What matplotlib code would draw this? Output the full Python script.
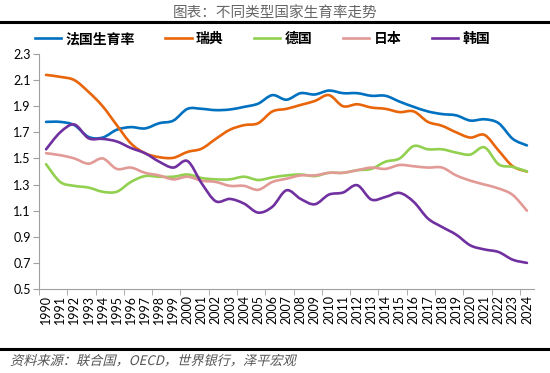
import matplotlib
matplotlib.use("Agg")
import matplotlib.pyplot as plt
import numpy as np
from matplotlib.path import Path
from matplotlib.patches import PathPatch
from matplotlib.lines import Line2D
from matplotlib.textpath import TextPath
from matplotlib.font_manager import FontProperties
from matplotlib.transforms import Affine2D

plt.rcParams['font.family'] = ['Lato', 'Noto Sans CJK SC', 'DejaVu Sans']

years = [str(y) for y in range(1990, 2025)]
france = [1.78, 1.78, 1.755, 1.665, 1.66, 1.72, 1.74, 1.73, 1.77, 1.79,
          1.88, 1.88, 1.87, 1.875, 1.895, 1.92, 1.985, 1.95, 2.00, 1.99,
          2.02, 2.00, 2.00, 1.98, 1.98, 1.935, 1.895, 1.86, 1.84, 1.83,
          1.79, 1.80, 1.77, 1.65, 1.60]
sweden = [2.14, 2.125, 2.10, 2.01, 1.90, 1.755, 1.615, 1.54, 1.51, 1.505,
          1.55, 1.575, 1.65, 1.72, 1.755, 1.77, 1.86, 1.88, 1.91, 1.94,
          1.985, 1.90, 1.915, 1.89, 1.88, 1.855, 1.86, 1.78, 1.75, 1.70,
          1.66, 1.68, 1.56, 1.44, 1.40]
germany = [1.456, 1.32, 1.29, 1.277, 1.245, 1.245, 1.32, 1.365, 1.36, 1.36,
           1.377, 1.35, 1.34, 1.34, 1.36, 1.335, 1.355, 1.37, 1.377, 1.365,
           1.39, 1.39, 1.41, 1.42, 1.475, 1.50, 1.595, 1.57, 1.57, 1.545,
           1.53, 1.585, 1.455, 1.435, 1.40]
japan = [1.54, 1.525, 1.50, 1.46, 1.50, 1.42, 1.43, 1.39, 1.37, 1.34,
         1.36, 1.33, 1.32, 1.29, 1.29, 1.26, 1.32, 1.345, 1.37, 1.37,
         1.39, 1.39, 1.41, 1.43, 1.42, 1.45, 1.44, 1.43, 1.43, 1.37,
         1.33, 1.30, 1.27, 1.22, 1.10]
korea = [1.57, 1.70, 1.76, 1.655, 1.65, 1.63, 1.58, 1.54, 1.475, 1.43,
         1.48, 1.31, 1.172, 1.19, 1.154, 1.085, 1.13, 1.256, 1.19, 1.149,
         1.223, 1.239, 1.295, 1.185, 1.205, 1.236, 1.167, 1.04, 0.975, 0.916,
         0.834, 0.803, 0.783, 0.724, 0.70]

series = [
    ("法国生育率", france, "#0070C0"),
    ("瑞典", sweden, "#E8650A"),
    ("德国", germany, "#92D050"),
    ("日本", japan, "#E29A96"),
    ("韩国", korea, "#7030A0"),
]


def smooth_path(x, y, t=1 / 6):
    # Catmull-Rom style bezier, similar to Excel smoothed lines
    x = np.asarray(x, float)
    y = np.asarray(y, float)
    verts = [(x[0], y[0])]
    codes = [Path.MOVETO]
    n = len(x)
    for i in range(n - 1):
        x0, y0 = (x[i - 1], y[i - 1]) if i > 0 else (x[i], y[i])
        x3, y3 = (x[i + 2], y[i + 2]) if i + 2 < n else (x[i + 1], y[i + 1])
        c1 = (x[i] + (x[i + 1] - x0) * t, y[i] + (y[i + 1] - y0) * t)
        c2 = (x[i + 1] - (x3 - x[i]) * t, y[i + 1] - (y3 - y[i]) * t)
        verts += [c1, c2, (x[i + 1], y[i + 1])]
        codes += [Path.CURVE4] * 3
    return Path(verts, codes)


fig = plt.figure(figsize=(5.5, 3.73), dpi=100)
ax = fig.add_axes([0.0709, 0.2252, 0.9, 0.630])

xs = np.arange(len(years))
handles = []
for name, vals, color in series:
    patch = PathPatch(smooth_path(xs, vals), facecolor="none", edgecolor=color,
                      lw=1.9, capstyle="round", joinstyle="round")
    ax.add_patch(patch)
    handles.append(Line2D([], [], color=color, lw=1.9, label=name))

ax.set_xlim(-0.5, len(years) - 0.5)
ax.set_ylim(0.5, 2.3)
ax.set_yticks(np.arange(0.5, 2.31, 0.2))
ax.set_yticklabels([f"{v:.1f}" for v in np.arange(0.5, 2.31, 0.2)])
ax.set_xticks(xs)
ax.set_xticklabels(years, rotation=90)
ax.set_xticks(np.arange(-0.5, len(years), 2), minor=True)
ax.tick_params(axis="x", which="major", length=0, labelsize=9, pad=4)
ax.tick_params(axis="x", which="minor", length=4, color="#A0A0A0")
ax.tick_params(axis="y", length=4, color="#A0A0A0", labelsize=9, pad=2)
for s in ["top", "right"]:
    ax.spines[s].set_visible(False)
for s in ["left", "bottom"]:
    ax.spines[s].set_color("#A0A0A0")
    ax.spines[s].set_linewidth(0.8)

fig.legend(handles=handles, loc="center", bbox_to_anchor=(0.477, 0.895), ncol=5,
           frameon=False, handlelength=1.9, columnspacing=2.2, handletextpad=0.3,
           prop={"family": ["Noto Sans CJK SC"], "size": 10, "weight": "bold"})

fig.text(0.5, 0.967, "图表：不同类型国家生育率走势", ha="center", va="center",
         fontsize=10.5, color="#666666", family=["Noto Sans CJK SC"])
fig.add_artist(Line2D([0, 1], [0.942, 0.942], color="black", lw=2.2,
                      transform=fig.transFigure))
fig.add_artist(Line2D([0, 1], [0.065, 0.065], color="black", lw=2.2,
                      transform=fig.transFigure))

# source note, sheared to look italic like the original
src = "资料来源：联合国，OECD，世界银行，泽平宏观"
tp = TextPath((0, 0), src, size=9.5, prop=FontProperties(family="Noto Sans CJK SC"))
tr = Affine2D().skew_deg(14, 0).scale(1 / 72.0).translate(0.1, 0.08) + fig.dpi_scale_trans
fig.add_artist(PathPatch(tp, transform=tr, facecolor="#555555", edgecolor="none"))

fig.savefig("out.png", dpi=100)
